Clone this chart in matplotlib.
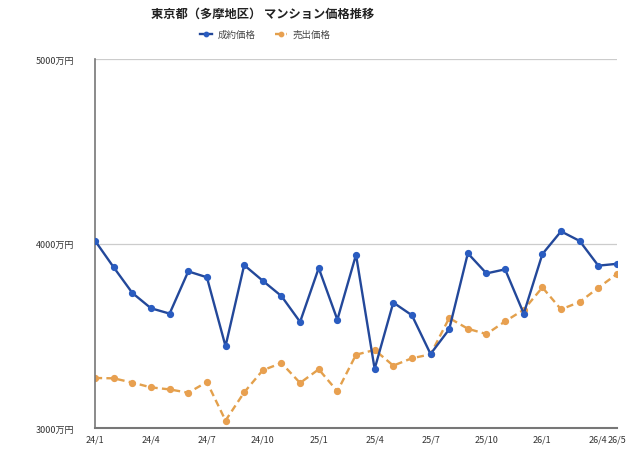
import matplotlib
matplotlib.use('Agg')
import matplotlib.pyplot as plt

plt.rcParams['font.family'] = ['Noto Sans CJK JP', 'DejaVu Sans']

months = ['24/1', '24/2', '24/3', '24/4', '24/5', '24/6', '24/7', '24/8', '24/9', '24/10',
          '24/11', '24/12', '25/1', '25/2', '25/3', '25/4', '25/5', '25/6', '25/7', '25/8',
          '25/9', '25/10', '25/11', '25/12', '26/1', '26/2', '26/3', '26/4', '26/5']
contract = [4015, 3871, 3732, 3649, 3620, 3849, 3817, 3443, 3883, 3798,
            3715, 3575, 3867, 3587, 3939, 3320, 3680, 3611, 3401, 3535,
            3947, 3838, 3860, 3620, 3943, 4066, 4014, 3880, 3890]
asking = [3271, 3269, 3246, 3220, 3209, 3191, 3249, 3040, 3193, 3313,
          3352, 3244, 3318, 3199, 3397, 3423, 3338, 3378, 3399, 3596,
          3538, 3509, 3578, 3641, 3762, 3643, 3683, 3760, 3835]
tick_labels = ['24/1', '24/4', '24/7', '24/10', '25/1', '25/4', '25/7', '25/10', '26/1', '26/4', '26/5']
y_ticks = [3000, 4000, 5000]

fig = plt.figure(figsize=(6.38, 4.52), dpi=100)
ax = fig.add_axes([0.149, 0.051, 0.818, 0.816])

x = list(range(len(months)))
ax.plot(x, contract, color='#23489a', lw=1.7, marker='o', ms=4.2,
        markerfacecolor='#2a5cc0', markeredgecolor='#2a5cc0', label='成約価格', zorder=3)
ax.plot(x, asking, color='#e3a04c', lw=1.7, ls=(0, (3, 1.8)), marker='o', ms=4.2,
        markerfacecolor='#e8a050', markeredgecolor='#e8a050', label='売出価格', zorder=2)

ax.set_xlim(0, len(months) - 1)
ax.set_ylim(3000, 5000)
ax.set_yticks(y_ticks)
ax.set_yticklabels([f'{v}万円' for v in y_ticks], fontsize=6.5, color='#333333')
ax.set_xticks([months.index(m) for m in tick_labels])
ax.set_xticklabels(tick_labels, fontsize=6.5, color='#333333')
ax.tick_params(axis='y', length=0, pad=15)
ax.tick_params(axis='x', length=0, pad=5)
ax.grid(axis='y', color='#cccccc', lw=0.9)
ax.set_axisbelow(True)
for s in ['top', 'right']:
    ax.spines[s].set_visible(False)
ax.spines['left'].set_color('#777777')
ax.spines['bottom'].set_color('#777777')
ax.spines['left'].set_linewidth(1.2)
ax.spines['bottom'].set_linewidth(1.5)

fig.text(0.411, 0.968, '東京都（多摩地区） マンション価格推移', ha='center', va='center',
         fontsize=8.8, fontweight='bold', color='#222222')
leg = fig.legend(loc='center', bbox_to_anchor=(0.416, 0.922), ncol=2, frameon=False,
                 fontsize=6.8, handlelength=1.2, columnspacing=2.1, handletextpad=0.6,
                 markerscale=0.75)
for t in leg.get_texts():
    t.set_color('#444444')

fig.savefig('out.png', dpi=100)
